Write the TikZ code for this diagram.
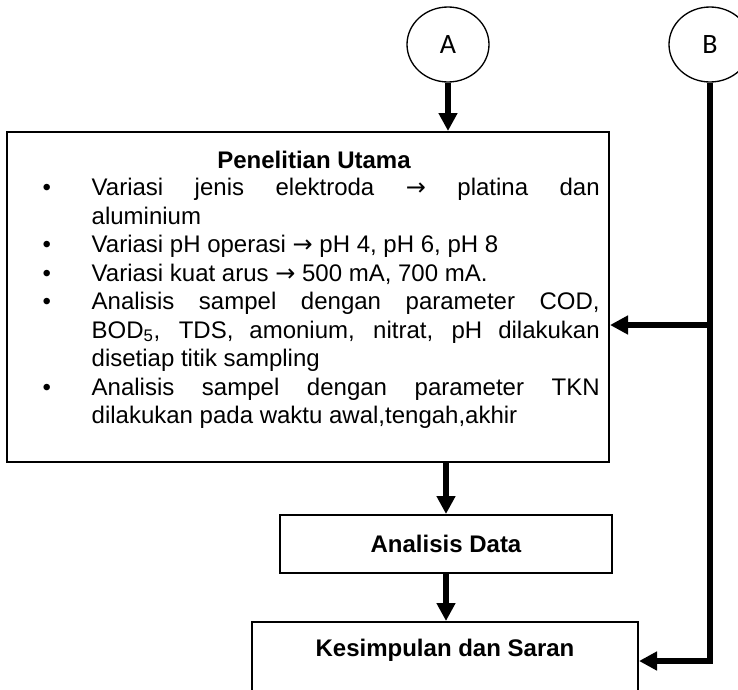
\documentclass[tikz,border=0pt]{standalone}
\usepackage{fontspec}
\setmainfont{Liberation Sans}
\newfontfamily\bulatfont{Carlito}
\newfontfamily\panahfont{DejaVu Sans}
\usetikzlibrary{arrows.meta,shapes.geometric}
\newcommand\butir[1]{\hbox to 0pt{\hss#1\hss}}
\newcommand\ke{{\panahfont →}}
\newcommand\daftar{\setlength{\leftmargin}{0pt}\setlength{\labelwidth}{0pt}%
  \setlength{\labelsep}{33.75pt}\setlength{\itemsep}{0pt}\setlength{\parsep}{0pt}%
  \setlength{\topsep}{0pt}\setlength{\partopsep}{0pt}\let\makelabel\butir
  \hyphenpenalty=10000}

\begin{document}
\begin{tikzpicture}[x=0.75pt,y=-0.75pt,
  kotak/.style={draw,line width=1.5pt,inner sep=0pt,font=\bfseries\fontsize{18}{21.4}\selectfont},
  bulat/.style={draw,ellipse,line width=1pt,minimum width=61.5pt,minimum height=56.25pt,inner sep=0pt,
    font=\bulatfont\fontsize{21}{24}\selectfont},
  panah/.style={line width=4.5pt,-{Triangle[length=13.5pt,width=13.5pt]}}]
\useasboundingbox (0,0) rectangle (738,689);
\node[bulat] (A) at (448,44.5) {A};
\node[bulat] (B) at (710,44.5) {B};
\node[kotak,anchor=north west,minimum width=451.5pt,minimum height=247.5pt] (utama) at (6,131) {};
\node[anchor=base,font=\bfseries\fontsize{18}{21.4}\selectfont] (judul) at (314,168) {Penelitian Utama};
\node[anchor=base west,text width=381pt,align=justify,font=\fontsize{18}{21.4}\selectfont] (isi) at (87,167) {%
  \begin{list}{\textbullet}{\daftar}
  \item Variasi jenis elektroda \ke{} platina dan\linebreak aluminium
  \item Variasi pH operasi \ke{} pH 4, pH 6, pH 8
  \item Variasi kuat arus \ke{} 500 mA, 700 mA.
  \item Analisis sampel dengan parameter COD,\linebreak BOD\textsubscript{5}, TDS, amonium, nitrat, pH dilakukan\linebreak disetiap titik sampling
  \item Analisis sampel dengan parameter TKN\linebreak dilakukan pada waktu awal,tengah,akhir
  \end{list}};
\node[kotak,minimum width=249pt,minimum height=43.5pt] (analisis) at (446,544) {Analisis Data};
\node[kotak,anchor=north,minimum width=289.5pt,text height=13pt,text depth=60pt,inner ysep=13pt] (simpul) at (445,621) {Kesimpulan dan Saran};
% jalur B
\coordinate (cabang) at (710,325);
\coordinate (siku) at (710,661);
\draw[panah] (A.south) -- (A.south |- utama.north);
\draw[panah] (analisis.north |- utama.south) -- (analisis.north);
\draw[panah] (analisis.south) -- (analisis.south |- simpul.north);
\draw[panah] (B.south) -- (siku) -- (siku -| simpul.east);
\draw[panah] (cabang) -- (cabang -| utama.east);
\end{tikzpicture}
\end{document}
